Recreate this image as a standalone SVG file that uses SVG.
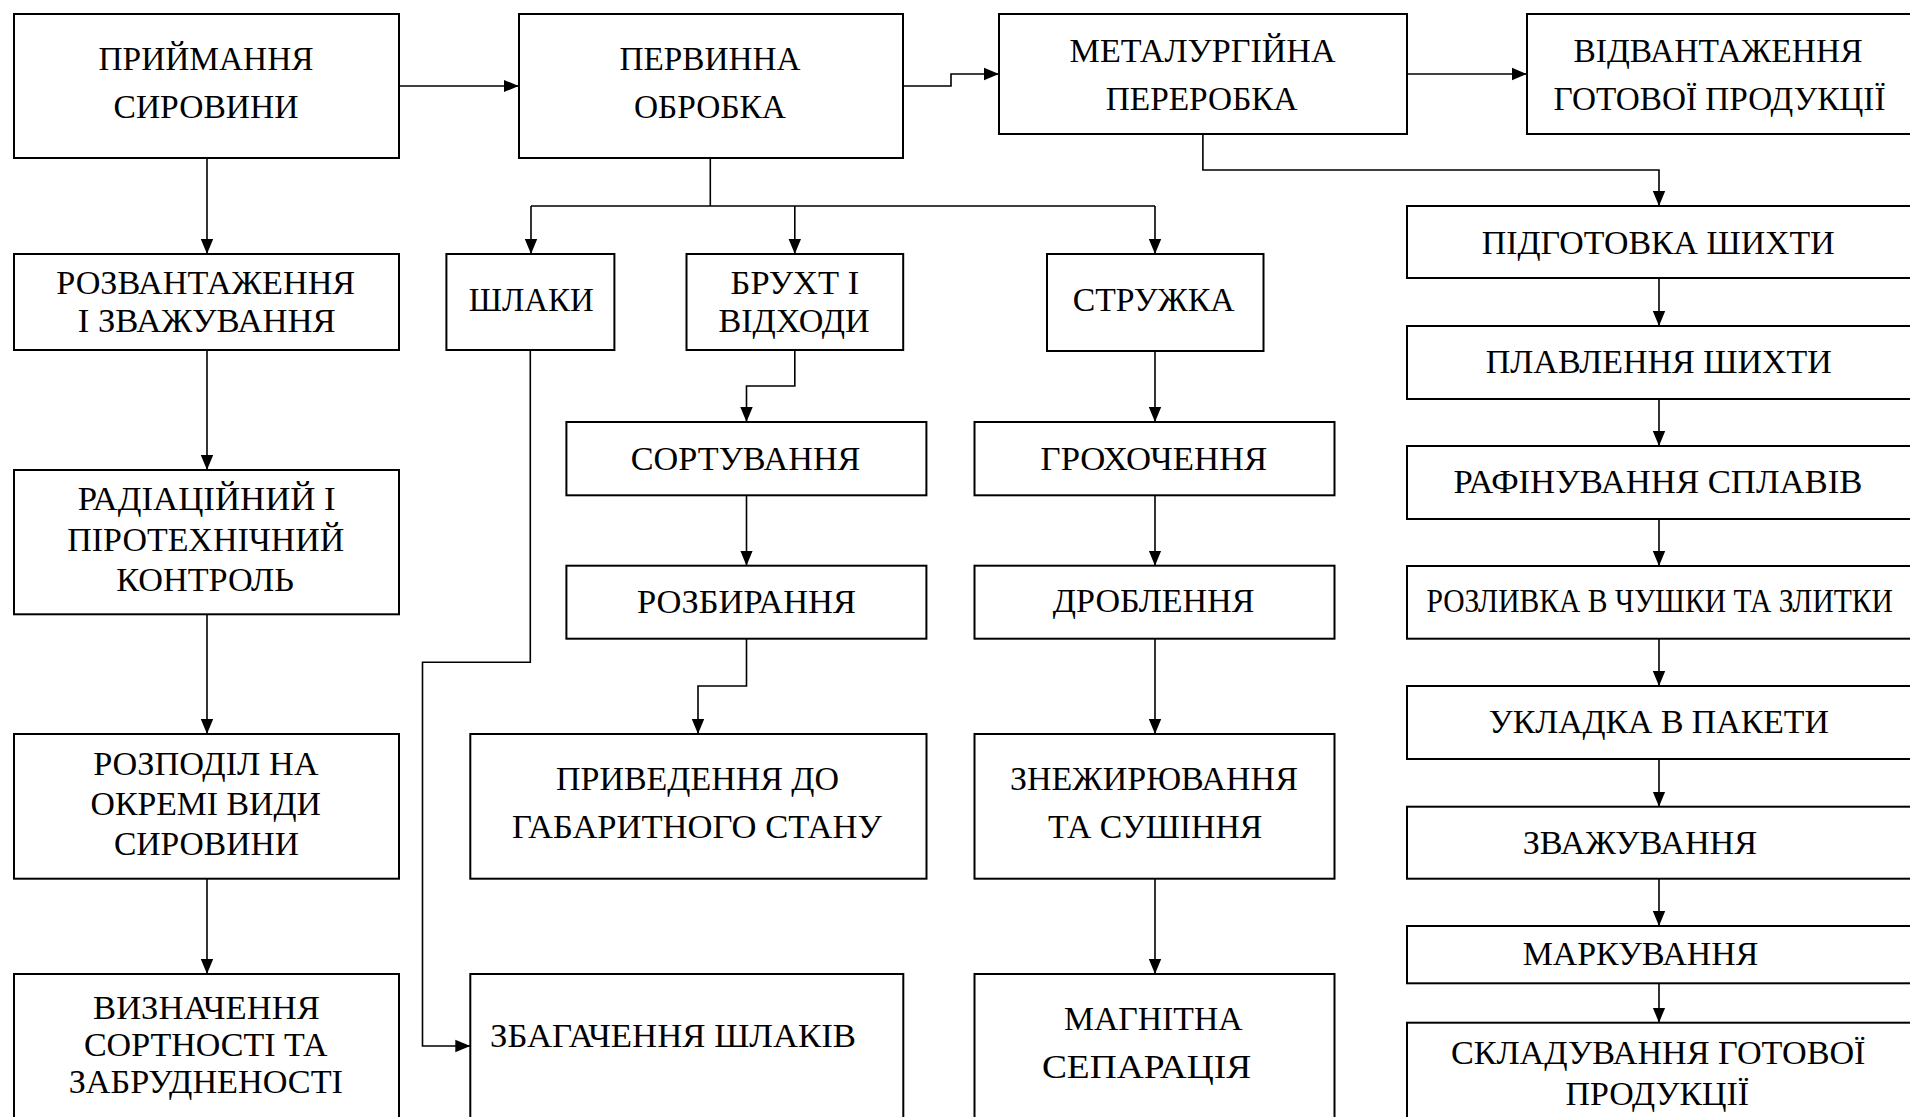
<svg xmlns="http://www.w3.org/2000/svg" width="1910" height="1117" viewBox="0 0 1910 1117">
<style>
.b{fill:#fff;stroke:#000;stroke-width:2}
.t{font-family:"Liberation Serif","Times New Roman",serif;font-size:33px;fill:#000;text-anchor:middle}
.c{fill:none;stroke:#000;stroke-width:1.6}
.a{marker-end:url(#ah)}
</style>
<defs>
<marker id="ah" markerUnits="userSpaceOnUse" markerWidth="16" markerHeight="14" refX="15" refY="7" orient="auto">
<path d="M0,0.8 L15,7 L0,13.2 Z" fill="#000"/>
</marker>
</defs>
<rect width="1910" height="1117" fill="#fff"/>
<g id="connectors">
<path class="c a" d="M398.6,86 H518.7"/>
<path class="c a" d="M903.2,86 H951 V74 H999"/>
<path class="c a" d="M1406.8,74 H1526.9"/>
<path class="c a" d="M207,158 V254"/>
<path class="c a" d="M207,350 V470"/>
<path class="c a" d="M207,614.3 V734"/>
<path class="c a" d="M207,878.7 V974"/>
<path class="c" d="M710.3,158 V206 M531,206 H1155"/>
<path class="c a" d="M531,206 V254"/>
<path class="c a" d="M794.8,206 V254"/>
<path class="c a" d="M1155,206 V254"/>
<path class="c a" d="M794.8,350 V386 H746.5 V422"/>
<path class="c a" d="M746.5,495.3 V565.7"/>
<path class="c a" d="M746.5,638.7 V686 H698 V734"/>
<path class="c a" d="M530.3,350 V662.3 H422.5 V1046 H470.3"/>
<path class="c a" d="M1155,351 V422"/>
<path class="c a" d="M1155,495.3 V565.7"/>
<path class="c a" d="M1155,638.7 V734"/>
<path class="c a" d="M1155,878.7 V974"/>
<path class="c a" d="M1202.9,134 V170 H1659 V206"/>
<path class="c a" d="M1659,278 V326"/>
<path class="c a" d="M1659,399 V446"/>
<path class="c a" d="M1659,519 V566"/>
<path class="c a" d="M1659,638.7 V686"/>
<path class="c a" d="M1659,759 V806.7"/>
<path class="c a" d="M1659,878.7 V926"/>
<path class="c a" d="M1659,983.3 V1022.7"/>
</g>
<g id="n1"><rect class="b" x="14" y="14" width="385" height="144"/>
<text class="t" x="206" y="70" textLength="215" lengthAdjust="spacingAndGlyphs">ПРИЙМАННЯ</text>
<text class="t" x="206" y="118.3" textLength="185" lengthAdjust="spacingAndGlyphs">СИРОВИНИ</text></g>
<g id="n2"><rect class="b" x="519" y="14" width="384" height="144"/>
<text class="t" x="710" y="70" textLength="181" lengthAdjust="spacingAndGlyphs">ПЕРВИННА</text>
<text class="t" x="710" y="118.3" textLength="152" lengthAdjust="spacingAndGlyphs">ОБРОБКА</text></g>
<g id="n3"><rect class="b" x="999" y="14" width="408" height="120"/>
<text class="t" x="1202.6" y="61.7" textLength="266" lengthAdjust="spacingAndGlyphs">МЕТАЛУРГІЙНА</text>
<text class="t" x="1201.7" y="110" textLength="192" lengthAdjust="spacingAndGlyphs">ПЕРЕРОБКА</text></g>
<g id="n4"><rect class="b" x="1527" y="14" width="400" height="120"/>
<text class="t" x="1718" y="61.7" textLength="289" lengthAdjust="spacingAndGlyphs">ВІДВАНТАЖЕННЯ</text>
<text class="t" x="1719.5" y="110" textLength="332" lengthAdjust="spacingAndGlyphs">ГОТОВОЇ ПРОДУКЦІЇ</text></g>
<g id="n5"><rect class="b" x="14" y="254" width="385" height="96"/>
<text class="t" x="205.7" y="294" textLength="299" lengthAdjust="spacingAndGlyphs">РОЗВАНТАЖЕННЯ</text>
<text class="t" x="206.7" y="331.7" textLength="258" lengthAdjust="spacingAndGlyphs">І ЗВАЖУВАННЯ</text></g>
<g id="n6"><rect class="b" x="446.4" y="254" width="168" height="96"/>
<text class="t" x="531.2" y="310.7" textLength="125" lengthAdjust="spacingAndGlyphs">ШЛАКИ</text></g>
<g id="n7"><rect class="b" x="686.5" y="254" width="216.7" height="96"/>
<text class="t" x="794.9" y="294" textLength="128.6" lengthAdjust="spacingAndGlyphs">БРУХТ І</text>
<text class="t" x="794" y="331.7" textLength="151" lengthAdjust="spacingAndGlyphs">ВІДХОДИ</text></g>
<g id="n8"><rect class="b" x="1047" y="254" width="216.5" height="97"/>
<text class="t" x="1153.7" y="310.7" textLength="162" lengthAdjust="spacingAndGlyphs">СТРУЖКА</text></g>
<g id="n9"><rect class="b" x="1407" y="206" width="520" height="72"/>
<text class="t" x="1658.2" y="254" textLength="353" lengthAdjust="spacingAndGlyphs">ПІДГОТОВКА ШИХТИ</text></g>
<g id="n10"><rect class="b" x="1407" y="326" width="520" height="73"/>
<text class="t" x="1658.8" y="373.3" textLength="346" lengthAdjust="spacingAndGlyphs">ПЛАВЛЕННЯ ШИХТИ</text></g>
<g id="n11"><rect class="b" x="14" y="470" width="385" height="144.3"/>
<text class="t" x="206.7" y="510" textLength="258" lengthAdjust="spacingAndGlyphs">РАДІАЦІЙНИЙ І</text>
<text class="t" x="205.8" y="550.7" textLength="277" lengthAdjust="spacingAndGlyphs">ПІРОТЕХНІЧНИЙ</text>
<text class="t" x="205.1" y="591" textLength="177.6" lengthAdjust="spacingAndGlyphs">КОНТРОЛЬ</text></g>
<g id="n12"><rect class="b" x="566.4" y="422" width="360" height="73.3"/>
<text class="t" x="745.6" y="470" textLength="229.6" lengthAdjust="spacingAndGlyphs">СОРТУВАННЯ</text></g>
<g id="n13"><rect class="b" x="566.4" y="565.7" width="360" height="73"/>
<text class="t" x="746.5" y="613.3" textLength="219" lengthAdjust="spacingAndGlyphs">РОЗБИРАННЯ</text></g>
<g id="n14"><rect class="b" x="974.5" y="422" width="360" height="73.3"/>
<text class="t" x="1153.9" y="470" textLength="226.6" lengthAdjust="spacingAndGlyphs">ГРОХОЧЕННЯ</text></g>
<g id="n15"><rect class="b" x="974.5" y="565.7" width="360" height="73"/>
<text class="t" x="1153.6" y="612.3" textLength="201.5" lengthAdjust="spacingAndGlyphs">ДРОБЛЕННЯ</text></g>
<g id="n16"><rect class="b" x="1407" y="446" width="520" height="73"/>
<text class="t" x="1657.9" y="493.3" textLength="409" lengthAdjust="spacingAndGlyphs">РАФІНУВАННЯ СПЛАВІВ</text></g>
<g id="n17"><rect class="b" x="1407" y="566" width="520" height="72.7"/>
<text class="t" x="1659.7" y="612.3" textLength="466.6" lengthAdjust="spacingAndGlyphs">РОЗЛИВКА В ЧУШКИ ТА ЗЛИТКИ</text></g>
<g id="n18"><rect class="b" x="1407" y="686" width="520" height="73"/>
<text class="t" x="1658.8" y="733.3" textLength="340" lengthAdjust="spacingAndGlyphs">УКЛАДКА В ПАКЕТИ</text></g>
<g id="n19"><rect class="b" x="14" y="734" width="385" height="144.7"/>
<text class="t" x="205.8" y="775" textLength="225.3" lengthAdjust="spacingAndGlyphs">РОЗПОДІЛ НА</text>
<text class="t" x="205.7" y="815" textLength="230.3" lengthAdjust="spacingAndGlyphs">ОКРЕМІ ВИДИ</text>
<text class="t" x="206.4" y="855" textLength="185" lengthAdjust="spacingAndGlyphs">СИРОВИНИ</text></g>
<g id="n20"><rect class="b" x="470.3" y="734" width="456.2" height="144.7"/>
<text class="t" x="697.5" y="790" textLength="283" lengthAdjust="spacingAndGlyphs">ПРИВЕДЕННЯ ДО</text>
<text class="t" x="696.9" y="838.3" textLength="370" lengthAdjust="spacingAndGlyphs">ГАБАРИТНОГО СТАНУ</text></g>
<g id="n21"><rect class="b" x="974.5" y="734" width="360" height="144.7"/>
<text class="t" x="1153.9" y="790" textLength="287.8" lengthAdjust="spacingAndGlyphs">ЗНЕЖИРЮВАННЯ</text>
<text class="t" x="1155.2" y="838.3" textLength="214.3" lengthAdjust="spacingAndGlyphs">ТА СУШІННЯ</text></g>
<g id="n22"><rect class="b" x="1407" y="806.7" width="520" height="72"/>
<text class="t" x="1639.9" y="854" textLength="234.5" lengthAdjust="spacingAndGlyphs">ЗВАЖУВАННЯ</text></g>
<g id="n23"><rect class="b" x="1407" y="926" width="520" height="57.3"/>
<text class="t" x="1640.5" y="965" textLength="235.7" lengthAdjust="spacingAndGlyphs">МАРКУВАННЯ</text></g>
<g id="n24"><rect class="b" x="1407" y="1022.7" width="520" height="120"/>
<text class="t" x="1658.2" y="1064.3" textLength="414.6" lengthAdjust="spacingAndGlyphs">СКЛАДУВАННЯ ГОТОВОЇ</text>
<text class="t" x="1657.3" y="1105" textLength="183.7" lengthAdjust="spacingAndGlyphs">ПРОДУКЦІЇ</text></g>
<g id="n25"><rect class="b" x="14" y="974" width="385" height="160"/>
<text class="t" x="206.4" y="1019.3" textLength="226.6" lengthAdjust="spacingAndGlyphs">ВИЗНАЧЕННЯ</text>
<text class="t" x="205.8" y="1056" textLength="243.7" lengthAdjust="spacingAndGlyphs">СОРТНОСТІ ТА</text>
<text class="t" x="205.8" y="1093.3" textLength="274.3" lengthAdjust="spacingAndGlyphs">ЗАБРУДНЕНОСТІ</text></g>
<g id="n26"><rect class="b" x="470.3" y="974" width="433" height="160"/>
<text class="t" x="673" y="1046.7" textLength="366" lengthAdjust="spacingAndGlyphs">ЗБАГАЧЕННЯ ШЛАКІВ</text></g>
<g id="n27"><rect class="b" x="974.5" y="974" width="360" height="160"/>
<text class="t" x="1153.3" y="1030" textLength="178.8" lengthAdjust="spacingAndGlyphs">МАГНІТНА</text>
<text class="t" x="1146.6" y="1078.3" textLength="209.4" lengthAdjust="spacingAndGlyphs">СЕПАРАЦІЯ</text></g>
</svg>
